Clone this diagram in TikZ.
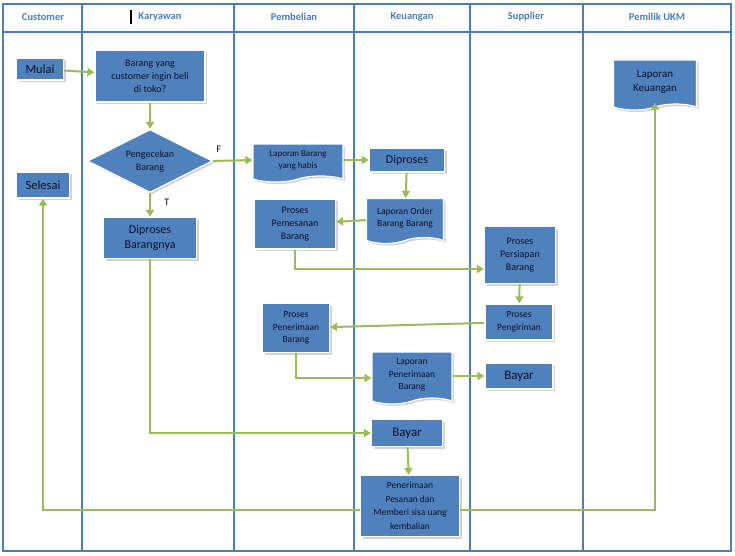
\documentclass[tikz,border=0pt]{standalone}
\usepackage{fontspec}
\setmainfont{Carlito}
\usetikzlibrary{shapes.geometric,shapes.symbols,shadows,arrows.meta}
\definecolor{boxblue}{HTML}{4F81BD}
\definecolor{laneblue}{HTML}{4A7EBB}
\definecolor{flowgreen}{HTML}{9BBB59}
\definecolor{boxtext}{HTML}{10102A}
\tikzset{
  proc/.style={draw=white,line width=1.2pt,fill=boxblue,text=boxtext,align=center,
    inner sep=0pt,font=\fontsize{10}{13}\selectfont,drop shadow={opacity=.35,shadow xshift=2pt,shadow yshift=-2pt}},
  doc/.style={proc,tape,tape bend top=none,tape bend bottom=in and out,tape bend height=6pt},
  dec/.style={proc,diamond,aspect=2},
  flow/.style={draw=flowgreen,line width=2pt,-{Triangle[length=7pt,width=8pt]}},
  lane/.style={draw=laneblue,line width=1.5pt},
  head/.style={text=laneblue,font=\bfseries\fontsize{10.5}{12}\selectfont}
}
\begin{document}
\begin{tikzpicture}[x=1pt,y=-1pt]
\useasboundingbox (0,0) rectangle (735,555);

% Lanes and header
\draw[lane] (3,4) rectangle (731,551);
\draw[lane] (3,32) -- (731,32);
\foreach \x in {82,234,354,470,583} \draw[lane] (\x,4) -- (\x,551);
\node[head] (hC) at (43,17) {Customer};
\node[head] (hK) at (160,17) {Karyawan};
\draw[line width=2pt] (131,10) -- (131,24);
\node[head] (hP) at (294,17) {Pembelian};
\node[head] (hU) at (412,17) {Keuangan};
\node[head] (hS) at (526,17) {Supplier};
\node[head] (hM) at (657,17) {Pemilik UKM};

% Customer
\node[proc,minimum width=47pt,minimum height=22pt,font=\fontsize{12.5}{14}\selectfont] (mulai) at (40,69) {Mulai};
\node[proc,minimum width=53pt,minimum height=26pt,font=\fontsize{12.5}{14}\selectfont] (selesai) at (43,185) {Selesai};

% Karyawan
\node[proc,minimum width=110pt,minimum height=52pt] (tanya) at (150,76) {Barang yang\\customer ingin beli\\di toko?};
\node[dec,minimum width=125pt,minimum height=63pt] (cek) at (150,161) {Pengecekan\\Barang};
\node[proc,minimum width=93pt,minimum height=41pt,font=\fontsize{12}{15}\selectfont] (diproses) at (150,238) {Diproses\\Barangnya};

% Pembelian
\node[doc,minimum width=90pt,minimum height=38pt,font=\fontsize{9}{12}\selectfont] (habis) at (298,160) {Laporan Barang\\yang habis};
\node[proc,minimum width=81pt,minimum height=50pt] (pesan) at (295,224) {Proses\\Pemesanan\\Barang};
\node[proc,minimum width=67pt,minimum height=49pt,font=\fontsize{9.5}{12.5}\selectfont] (terima) at (296,328) {Proses\\Penerimaan\\Barang};

% Keuangan
\node[proc,minimum width=75pt,minimum height=24pt,font=\fontsize{12}{14}\selectfont] (olah) at (407,160) {Diproses};
\node[doc,minimum width=77pt,minimum height=45pt,font=\fontsize{9.5}{12}\selectfont] (order) at (405,218) {Laporan Order\\Barang Barang};
\node[doc,minimum width=80pt,minimum height=52pt,font=\fontsize{9.5}{12.5}\selectfont] (lapterima) at (412,375) {Laporan\\Penerimaan\\Barang};
\node[proc,minimum width=71pt,minimum height=27pt,font=\fontsize{13}{15}\selectfont] (bayarK) at (407,433) {Bayar};
\node[proc,minimum width=99pt,minimum height=61pt,font=\fontsize{9.5}{13.5}\selectfont] (kembali) at (410,506) {Penerimaan\\Pesanan dan\\Memberi sisa uang\\kembalian};

% Supplier
\node[proc,minimum width=71pt,minimum height=57pt] (siap) at (520,255) {Proses\\Persiapan\\Barang};
\node[proc,minimum width=68pt,minimum height=36pt,font=\fontsize{9.5}{13}\selectfont] (kirim) at (519,322) {Proses\\Pengiriman};
\node[proc,minimum width=68pt,minimum height=26pt,font=\fontsize{13}{15}\selectfont] (bayarS) at (519,376) {Bayar};

% Pemilik UKM
\node[doc,minimum width=83pt,minimum height=50pt,font=\fontsize{11}{14}\selectfont] (lapuang) at (655,82) {Laporan\\Keuangan};

% Flow
\draw[flow] (mulai) -- (tanya);
\draw[flow] (tanya) -- (cek);
\draw[flow] (cek) -- node[pos=.4,right=10pt,font=\fontsize{10}{12}\selectfont] (lT) {T} (diproses);
\draw[flow] (cek.east) -- node[pos=.15,above=4pt,font=\fontsize{10}{12}\selectfont] (lF) {F} (habis.west);
\draw[flow] (habis) -- (olah);
\draw[flow] (olah) -- (order);
\draw[flow] (order) -- (pesan);
\draw[flow] (pesan.south) |- (siap.west |- 0,269);
\draw[flow] (siap) -- (kirim);
\draw[flow] (kirim) -- (terima);
\draw[flow] (terima.south) |- (lapterima.west |- 0,378);
\draw[flow] (lapterima.east |- bayarS) -- (bayarS);
\draw[flow] (diproses.south) |- (bayarK.west);
\draw[flow] (bayarK) -- (kembali);
\coordinate (sel) at (selesai.south |- 0,510);
\draw[flow] (kembali.west |- 0,510) -- (sel) -- (selesai.south);
\coordinate (uang) at (lapuang.south |- 0,510);
\draw[flow] (kembali.east |- 0,510) -- (uang) -- ([yshift=2pt]lapuang.south);
\end{tikzpicture}
\end{document}
